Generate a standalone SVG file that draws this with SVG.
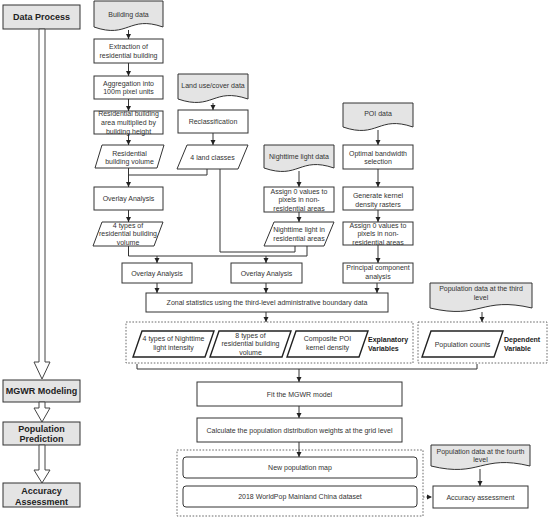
<svg xmlns="http://www.w3.org/2000/svg" width="550" height="520" viewBox="0 0 550 520">
<defs>
<style>
.b{fill:#fff;stroke:#333;stroke-width:1}
.g{fill:#e4e4e4;stroke:#333;stroke-width:1}
.pb{fill:#fff;stroke:#222;stroke-width:1.4}
.t{font-family:"Liberation Sans",Arial,sans-serif;font-size:7px;fill:#333;text-anchor:middle}
.bl{font-family:"Liberation Sans",Arial,sans-serif;font-size:9px;font-weight:bold;fill:#222;text-anchor:middle}
.bs{font-family:"Liberation Sans",Arial,sans-serif;font-size:7px;font-weight:bold;fill:#222;text-anchor:start}
.c{fill:none;stroke:#333;stroke-width:1}
.a{fill:none;stroke:#333;stroke-width:1;marker-end:url(#ah)}
.d{fill:none;stroke:#444;stroke-width:0.8;stroke-dasharray:1.6,1.6}
.h{fill:#fff;stroke:#444;stroke-width:1}
</style>
<marker id="ah" markerUnits="userSpaceOnUse" markerWidth="6" markerHeight="6" refX="5" refY="3" orient="auto">
<path d="M0,0.5 L5,3 L0,5.5 z" fill="#222"/>
</marker>
</defs>
<rect width="550" height="520" fill="#fff"/>

<!-- Left stage column -->
<g id="stage-data-process"><rect class="g" x="3" y="5" width="77" height="24"/><text class="bl" x="41.5" y="20">Data Process</text></g>
<g id="stage-arrow-1"><polygon class="h" points="39,29 45,29 45,362 50,362 42,379 34,362 39,362"/></g>
<g id="stage-mgwr"><rect class="g" x="3" y="380" width="77" height="22"/><text class="bl" x="41.5" y="394">MGWR Modeling</text></g>
<g id="stage-arrow-2"><polygon class="h" points="39,402 45,402 45,408 50,408 42,422 34,408 39,408"/></g>
<g id="stage-prediction"><rect class="g" x="3" y="422" width="77" height="23"/><text class="bl" x="41.5" y="432">Population</text><text class="bl" x="41.5" y="442">Prediction</text></g>
<g id="stage-arrow-3"><polygon class="h" points="39,445 45,445 45,470 50,470 42,483 34,470 39,470"/></g>
<g id="stage-accuracy"><rect class="g" x="3" y="483" width="77" height="24"/><text class="bl" x="41.5" y="494">Accuracy</text><text class="bl" x="41.5" y="505">Assessment</text></g>

<!-- Building column -->
<g id="n-building-data"><path class="g" d="M94,1 H163 V27 C128.5,15 128.5,39 94,27 Z"/><text class="t" x="128.5" y="16.5">Building data</text></g>
<g id="n-extraction"><rect class="b" x="94" y="39" width="69" height="24"/><text class="t" x="128.5" y="49">Extraction of</text><text class="t" x="128.5" y="58">residential building</text></g>
<g id="n-aggregation"><rect class="b" x="94" y="76" width="69" height="23"/><text class="t" x="128.5" y="85.5">Aggregation into</text><text class="t" x="128.5" y="94">100m pixel units</text></g>
<g id="n-area-height"><rect class="b" x="94" y="111" width="69" height="23"/><text class="t" x="128.5" y="115.5">Residential building</text><text class="t" x="128.5" y="124.5">area multiplied by</text><text class="t" x="128.5" y="133.5">building height</text></g>
<g id="n-volume"><polygon class="b" points="102,145 164,145 157,168 95,168"/><text class="t" x="129.5" y="155.5">Residential</text><text class="t" x="129.5" y="164">building volume</text></g>
<g id="n-overlay-1"><rect class="b" x="94" y="187" width="69" height="23"/><text class="t" x="128.5" y="201">Overlay Analysis</text></g>
<g id="n-4types-volume"><polygon class="b" points="102,222 163,222 154,246 93,246"/><text class="t" x="128" y="227.5">4 types of</text><text class="t" x="128" y="236">residential building</text><text class="t" x="128" y="244.5">volume</text></g>

<!-- Land use column -->
<g id="n-landuse-data"><path class="g" d="M178,74 H248 V99 C213,87 213,111 178,99 Z"/><text class="t" x="213" y="87.5">Land use/cover data</text></g>
<g id="n-reclass"><rect class="b" x="178" y="110" width="70" height="23"/><text class="t" x="213" y="124">Reclassification</text></g>
<g id="n-4land"><polygon class="b" points="187,145 248,145 238,169 177,169"/><text class="t" x="212.5" y="159.5">4 land classes</text></g>

<!-- Nighttime light column -->
<g id="n-ntl-data"><path class="g" d="M264,145 H334 V168 C299,156 299,180 264,168 Z"/><text class="t" x="299" y="158.5">Nighttime light data</text></g>
<g id="n-ntl-assign"><rect class="b" x="264" y="187" width="70" height="25"/><text class="t" x="299" y="193.5">Assign 0 values to</text><text class="t" x="299" y="202">pixels in non-</text><text class="t" x="299" y="210.5">residential areas</text></g>
<g id="n-ntl-res"><polygon class="b" points="274,222 334,222 324,246 264,246"/><text class="t" x="299" y="231.5">Nighttime light in</text><text class="t" x="299" y="240.5">residential areas</text></g>

<!-- POI column -->
<g id="n-poi-data"><path class="g" d="M343,103 H413 V127 C378,115 378,139 343,127 Z"/><text class="t" x="378" y="115.5">POI data</text></g>
<g id="n-bandwidth"><rect class="b" x="343" y="145" width="70" height="24"/><text class="t" x="378" y="155.5">Optimal bandwidth</text><text class="t" x="378" y="164">selection</text></g>
<g id="n-kernel"><rect class="b" x="343" y="187" width="70" height="23"/><text class="t" x="378" y="197.5">Generate kernel</text><text class="t" x="378" y="206.5">density rasters</text></g>
<g id="n-poi-assign"><rect class="b" x="343" y="222" width="70" height="23"/><text class="t" x="378" y="227.5">Assign 0 values to</text><text class="t" x="378" y="236">pixels in non-</text><text class="t" x="378" y="244.5">residential areas</text></g>
<g id="n-pca"><rect class="b" x="343" y="263" width="70" height="20"/><text class="t" x="378" y="269.5">Principal component</text><text class="t" x="378" y="278.5">analysis</text></g>

<!-- Overlay row -->
<g id="n-overlay-2"><rect class="b" x="122" y="263" width="70" height="20"/><text class="t" x="157" y="275.5">Overlay Analysis</text></g>
<g id="n-overlay-3"><rect class="b" x="231" y="263" width="71" height="20"/><text class="t" x="266.5" y="275.5">Overlay Analysis</text></g>
<g id="n-zonal"><rect class="b" x="146" y="293" width="242" height="19"/><text class="t" x="267" y="305">Zonal statistics using the third-level administrative boundary data</text></g>

<!-- Explanatory variables group -->
<g id="g-explanatory"><rect class="d" x="126" y="322" width="287" height="41"/>
<polygon class="pb" points="142,331 214,331 205,357 133,357"/><text class="t" x="173.5" y="340.5">4 types of Nighttime</text><text class="t" x="173.5" y="349.5">light intensity</text>
<polygon class="pb" points="219,331 291,331 282,357 210,357"/><text class="t" x="250.5" y="337.5">8 types of</text><text class="t" x="250.5" y="346">residential building</text><text class="t" x="250.5" y="354.5">volume</text>
<polygon class="pb" points="296,331 368,331 359,357 287,357"/><text class="t" x="327.5" y="340.5">Composite POI</text><text class="t" x="327.5" y="349.5">kernel density</text>
<text class="bs" x="368" y="341.5">Explanatory</text><text class="bs" x="368" y="350.5">Variables</text></g>

<!-- Dependent variable group -->
<g id="g-dependent"><rect class="d" x="418" y="322" width="129" height="41"/>
<polygon class="pb" points="431,331 503,331 494,357 422,357"/><text class="t" x="462.5" y="346.5">Population counts</text>
<text class="bs" x="504" y="341.5">Dependent</text><text class="bs" x="504" y="350.5">Variable</text></g>
<g id="n-pop-third"><path class="g" d="M430,283 H532 V308 C481,296 481,320 430,308 Z"/><text class="t" x="481" y="290.5">Population data at the third</text><text class="t" x="481" y="299.5">level</text></g>

<!-- Modeling and prediction -->
<g id="n-fit"><rect class="b" x="197" y="382" width="205" height="24"/><text class="t" x="299.5" y="396.5">Fit the MGWR model</text></g>
<g id="n-calc"><rect class="b" x="197" y="418" width="205" height="24"/><text class="t" x="299.5" y="432.5">Calculate the population distribution weights at the grid level</text></g>
<g id="g-maps"><rect class="d" x="177" y="450" width="246" height="66"/>
<rect class="b" x="183" y="457" width="234" height="21" rx="3"/><text class="t" x="300" y="470">New population map</text>
<rect class="b" x="183" y="486" width="234" height="21" rx="3"/><text class="t" x="300" y="499">2018 WorldPop Mainland China dataset</text></g>
<g id="n-pop-fourth"><path class="g" d="M431,445 H530 V466 C480.5,454 480.5,478 431,466 Z"/><text class="t" x="480.5" y="453.5">Population data at the fourth</text><text class="t" x="480.5" y="462">level</text></g>
<g id="n-accuracy"><rect class="b" x="433" y="486" width="95" height="22"/><text class="t" x="480.5" y="499.5">Accuracy assessment</text></g>

<!-- Connectors -->
<g id="connectors">
<path class="a" d="M128.5,30 V39"/>
<path class="a" d="M128.5,63 V76"/>
<path class="a" d="M128.5,99 V111"/>
<path class="a" d="M128.5,134 V145"/>
<path class="a" d="M128.5,168 V187"/>
<path class="c" d="M207,169 V175 H128.5"/>
<path class="a" d="M128.5,210 V222"/>
<path class="a" d="M213,103 V110"/>
<path class="a" d="M213,133 V145"/>
<path class="a" d="M299,171 V187"/>
<path class="a" d="M299,212 V222"/>
<path class="a" d="M378,130 V145"/>
<path class="a" d="M378,169 V187"/>
<path class="a" d="M378,210 V222"/>
<path class="a" d="M378,245 V263"/>
<path class="c" d="M128.5,246 V256 H307 V246"/>
<path class="c" d="M220,169 V252 H295 V246"/>
<path class="a" d="M157,256 V263"/>
<path class="a" d="M266,256 V263"/>
<path class="a" d="M157,283 V293"/>
<path class="a" d="M266,283 V293"/>
<path class="a" d="M377,283 V293"/>
<path class="a" d="M266,312 V322"/>
<path class="a" d="M482,312 V322"/>
<path class="c" d="M137,364 V369 H477 V364"/>
<path class="a" d="M299,369 V382"/>
<path class="a" d="M299,406 V418"/>
<path class="a" d="M299,442 V457"/>
<path class="a" d="M480,469 V486"/>
<path class="d" d="M423,497 H432" style="marker-end:url(#ah)"/>
</g>
</svg>
